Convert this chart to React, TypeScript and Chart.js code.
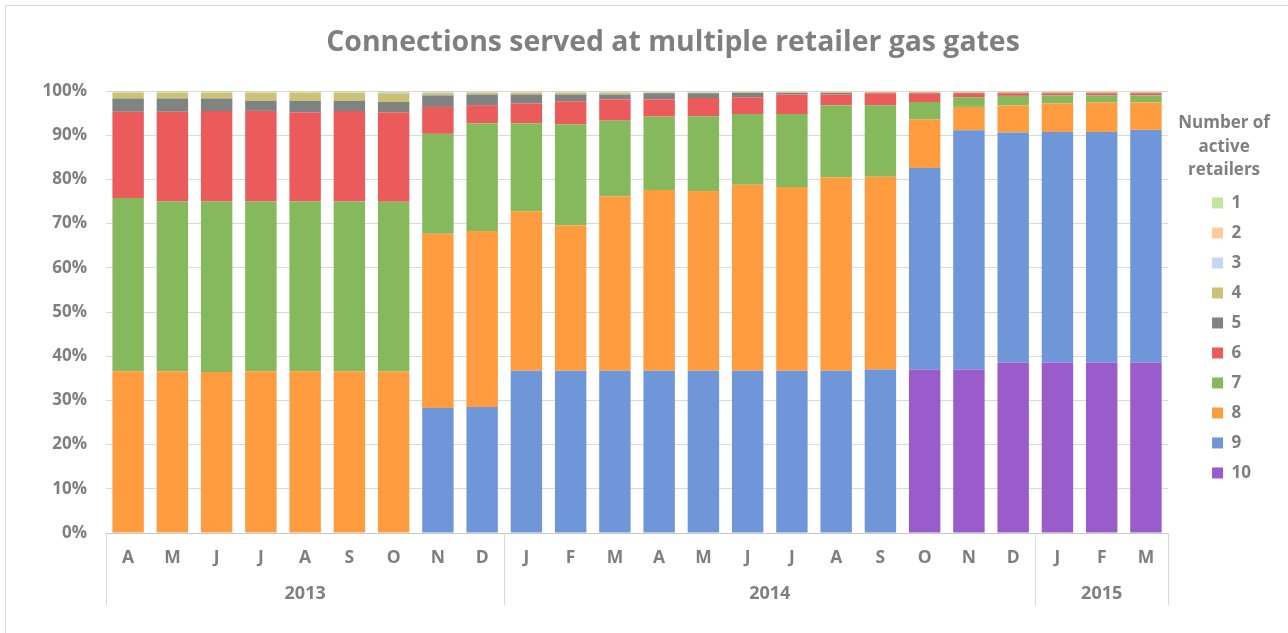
import React, { useEffect, useRef } from 'react';
import { Chart, registerables } from 'chart.js';

Chart.register(...registerables);

const months = ['A', 'M', 'J', 'J', 'A', 'S', 'O', 'N', 'D', 'J', 'F', 'M', 'A', 'M', 'J', 'J', 'A', 'S', 'O', 'N', 'D', 'J', 'F', 'M'];
const yearLabels = ['2013', '2014', '2015'];
const yearSpans = [9, 12, 3];

const chartTitle = 'Connections served at multiple retailer gas gates';
const legendTitle = ['Number of', 'active', 'retailers'];

// share of connections (%) by number of active retailers
const r10 = [0, 0, 0, 0, 0, 0, 0, 0, 0, 0, 0, 0, 0, 0, 0, 0, 0, 0, 37.0, 37.0, 38.6, 38.6, 38.6, 38.6];
const r9 = [0, 0, 0, 0, 0, 0, 0, 28.3, 28.5, 36.7, 36.7, 36.7, 36.7, 36.7, 36.7, 36.7, 36.7, 37.0, 45.6, 54.1, 52.1, 52.1, 52.1, 52.6];
const r8 = [36.6, 36.6, 36.4, 36.6, 36.6, 36.6, 36.6, 39.4, 39.8, 36.1, 32.9, 39.5, 40.9, 40.7, 42.1, 41.6, 43.8, 43.6, 11.0, 5.3, 6.1, 6.5, 6.7, 6.2];
const r7 = [39.2, 38.4, 38.6, 38.4, 38.4, 38.4, 38.4, 22.6, 24.4, 19.9, 22.9, 17.1, 16.6, 16.9, 16.0, 16.5, 16.3, 16.2, 3.9, 2.2, 2.2, 1.8, 1.6, 1.6];
const r6 = [19.5, 20.3, 20.5, 20.5, 20.2, 20.5, 20.3, 6.1, 4.1, 4.5, 5.2, 4.8, 3.9, 4.1, 3.8, 4.4, 2.4, 2.7, 2.0, 0.9, 0.6, 0.5, 0.5, 0.5];
const r5 = [3.0, 3.0, 2.8, 2.3, 2.6, 2.3, 2.3, 2.6, 2.4, 2.0, 1.5, 1.1, 1.4, 1.1, 1.0, 0.4, 0.4, 0.1, 0.1, 0.1, 0.1, 0.1, 0.1, 0.1];
const r4 = [1.3, 1.3, 1.3, 1.8, 1.8, 1.8, 2.0, 0.5, 0.4, 0.4, 0.4, 0.4, 0.1, 0.1, 0.1, 0.1, 0.1, 0.1, 0.1, 0.1, 0.1, 0.1, 0.1, 0.1];
const r3 = [0.1, 0.1, 0.1, 0.1, 0.1, 0.1, 0.3, 0.3, 0.2, 0.2, 0.2, 0.2, 0.2, 0.2, 0.1, 0.1, 0.1, 0.1, 0.1, 0.1, 0.1, 0.1, 0.1, 0.1];
const r2 = [0.1, 0.1, 0.1, 0.1, 0.1, 0.1, 0.1, 0.1, 0.1, 0.1, 0.1, 0.1, 0.1, 0.1, 0.1, 0.1, 0.1, 0.1, 0.1, 0.1, 0.1, 0.1, 0.1, 0.1];
const r1 = [0.2, 0.2, 0.2, 0.2, 0.2, 0.2, 0.1, 0.1, 0.1, 0.1, 0.1, 0.1, 0.1, 0.1, 0.1, 0.1, 0.1, 0.1, 0.1, 0.1, 0.1, 0.1, 0.1, 0.1];

const seriesNames = ['10', '9', '8', '7', '6', '5', '4', '3', '2', '1'];
const seriesValues = [r10, r9, r8, r7, r6, r5, r4, r3, r2, r1];
const seriesColors = ['#9B5CCB', '#7096DA', '#FF9C40', '#86B95C', '#EB5B5C', '#7F8382', '#CBC273', '#C5D7F2', '#FFCB9A', '#C5E49B'];

const TEXT = '#7F7F7F';
const FONT = '"Open Sans", "DejaVu Sans", sans-serif';

const yearPlugin = {
  id: 'yearGroups',
  afterDraw(chart: any) {
    const { ctx, chartArea, scales } = chart;
    const x = scales.x;
    ctx.save();
    ctx.strokeStyle = '#D9D9D9';
    ctx.lineWidth = 1;
    const bounds = [-0.5];
    let acc = 0;
    yearSpans.forEach((s) => {
      acc += s;
      bounds.push(acc - 0.5);
    });
    bounds.forEach((b) => {
      const px = Math.round(x.getPixelForValue(b)) + 0.5;
      ctx.beginPath();
      ctx.moveTo(px, chartArea.bottom);
      ctx.lineTo(px, chartArea.bottom + 72);
      ctx.stroke();
    });
    ctx.fillStyle = TEXT;
    ctx.font = `bold 18px ${FONT}`;
    ctx.textAlign = 'center';
    ctx.textBaseline = 'middle';
    let start = 0;
    yearLabels.forEach((lab, i) => {
      const mid = start + (yearSpans[i] - 1) / 2;
      ctx.fillText(lab, x.getPixelForValue(mid), chartArea.bottom + 61);
      start += yearSpans[i];
    });
    ctx.restore();
  },
};

const titlesPlugin = {
  id: 'titles',
  afterDraw(chart: any) {
    const { ctx } = chart;
    ctx.save();
    ctx.fillStyle = TEXT;
    ctx.textAlign = 'center';
    ctx.textBaseline = 'middle';
    ctx.font = `bold 28.4px ${FONT}`;
    ctx.fillText(chartTitle, chart.width / 2 + 26, 37);
    const lg = chart.legend;
    if (lg) {
      ctx.font = `bold 17px ${FONT}`;
      const cx = lg.left + 25;
      legendTitle.forEach((line, i) => {
        ctx.fillText(line, cx, lg.top + 32 + i * 23.7);
      });
    }
    ctx.restore();
  },
};

export default function App() {
  const canvasRef = useRef<HTMLCanvasElement | null>(null);

  useEffect(() => {
    const totals = months.map((_, i) => seriesValues.reduce((s, arr) => s + arr[i], 0));
    const datasets = seriesNames.map((name, k) => ({
      label: name,
      data: seriesValues[k].map((v, i) => (v / totals[i]) * 100),
      backgroundColor: seriesColors[k],
      borderWidth: 0,
      barPercentage: 1,
      categoryPercentage: 0.71,
    }));

    const chart = new Chart(canvasRef.current as HTMLCanvasElement, {
      type: 'bar',
      data: { labels: months, datasets },
      plugins: [yearPlugin, titlesPlugin],
      options: {
        animation: false,
        responsive: true,
        maintainAspectRatio: false,
        layout: { padding: { left: 0, right: 27, top: 85, bottom: 0 } },
        font: { family: FONT },
        scales: {
          x: {
            stacked: true,
            grid: { display: false, drawTicks: false },
            border: { display: true, color: '#C8C8C8', width: 1 },
            ticks: { color: TEXT, font: { family: FONT, size: 17.5, weight: 'bold' }, padding: 15, maxRotation: 0, autoSkip: false },
            afterFit: (s: any) => {
              s.height = 100;
            },
          },
          y: {
            stacked: true,
            min: 0,
            max: 100,
            grid: { color: '#D9D9D9', drawTicks: false },
            border: { display: false },
            ticks: {
              stepSize: 10,
              color: TEXT,
              font: { family: FONT, size: 17, weight: 'bold' },
              padding: 19,
              callback: (v: any) => `${v}%`,
            },
            afterFit: (s: any) => {
              s.width = 100;
            },
          },
          spacer: {
            type: 'linear',
            position: 'right',
            display: true,
            grid: { display: false },
            border: { display: false },
            ticks: { display: false },
            afterFit: (s: any) => {
              s.width = 31;
            },
          },
        },
        plugins: {
          title: { display: false },
          legend: {
            position: 'right',
            align: 'start',
            reverse: true,
            labels: {
              boxWidth: 11,
              boxHeight: 11,
              padding: 13,
              color: TEXT,
              font: { family: FONT, size: 17, weight: 'bold' },
            },
            title: {
              display: true,
              text: '',
              font: { family: FONT, size: 17, weight: 'bold', lineHeight: 1.38 },
              padding: { top: 0, bottom: 67 },
            },
          },
          tooltip: { enabled: false },
        },
      } as any,
    });
    return () => chart.destroy();
  }, []);

  return (
    <div
      style={{
        position: 'fixed',
        left: 5,
        top: 5,
        width: 1283,
        height: 628,
        boxSizing: 'border-box',
        borderTop: '1px solid #D9D9D9',
        borderLeft: '1px solid #D9D9D9',
        background: '#FFFFFF',
      }}
    >
      <div style={{ position: 'relative', width: 1282, height: 627 }}>
        <canvas ref={canvasRef} />
      </div>
    </div>
  );
}
